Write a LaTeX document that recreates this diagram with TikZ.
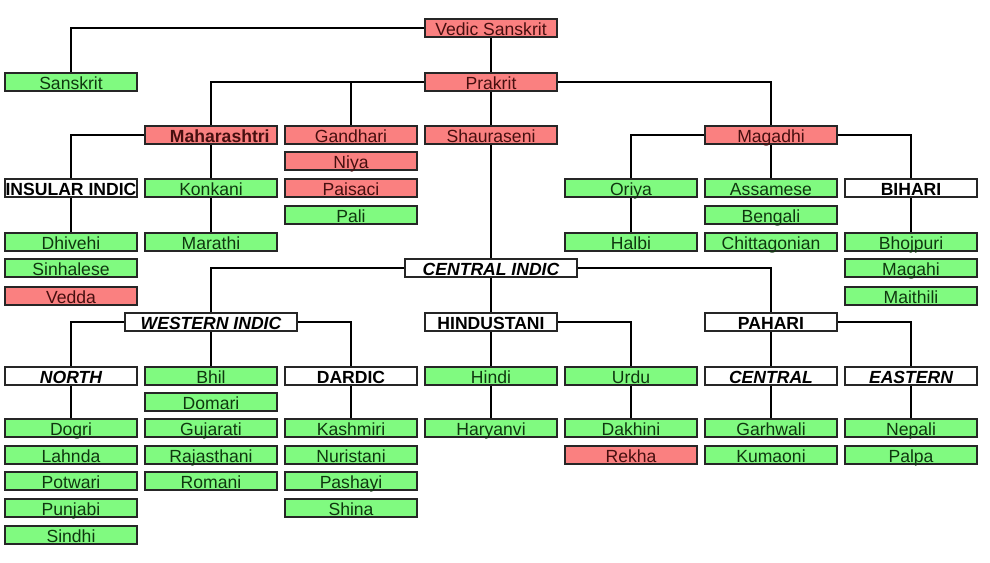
\documentclass[tikz,border=0pt]{standalone}
\usepackage{fontspec}
\setmainfont{Liberation Sans}
\definecolor{livegreen}{RGB}{128,250,128}
\definecolor{deadred}{RGB}{250,128,128}
\definecolor{livetext}{RGB}{15,55,15}
\definecolor{deadtext}{RGB}{70,15,15}

\begin{document}
\begin{tikzpicture}[x=0.02cm, y=-0.02cm, line width=0.75pt,
  lang/.style={draw=black!85, line width=0.9pt, minimum width=2.64cm, minimum height=0.37cm,
    inner sep=0pt, font=\fontsize{10}{11}\selectfont, text height=8.6pt, text depth=0pt},
  living/.style={lang, fill=livegreen, text=livetext},
  extinct/.style={lang, fill=deadred, text=deadtext},
  group/.style={lang, fill=white, font=\fontsize{10}{11}\selectfont\bfseries},
  subgroup/.style={group, font=\fontsize{10}{11}\selectfont\bfseries\itshape},
  wide/.style={minimum width=3.44cm}]
  \useasboundingbox (0,0) rectangle (990,562);
  % old languages
  \node[extinct] (vedic) at (491,28) {Vedic Sanskrit};
  \node[living] (sanskrit) at (71,82) {Sanskrit};
  \node[extinct] (prakrit) at (491,82) {Prakrit};
  \node[extinct] (mahar) at (211,135) {\hspace*{10pt}\textbf{Maharashtri}};
  \node[extinct] (gandhari) at (351,135) {Gandhari};
  \node[extinct] (shaura) at (491,135) {Shauraseni};
  \node[extinct] (magadhi) at (771,135) {Magadhi};
  \node[extinct] (niya) at (351,161) {Niya};
  \node[group] (insular) at (71,188) {INSULAR INDIC};
  \node[living] (konkani) at (211,188) {Konkani};
  \node[extinct] (paisaci) at (351,188) {Paisaci};
  \node[living] (oriya) at (631,188) {Oriya};
  \node[living] (assamese) at (771,188) {Assamese};
  \node[group] (bihari) at (911,188) {BIHARI};
  \node[living] (pali) at (351,215) {Pali};
  \node[living] (bengali) at (771,215) {Bengali};
  \node[living] (dhivehi) at (71,242) {Dhivehi};
  \node[living] (marathi) at (211,242) {Marathi};
  \node[living] (halbi) at (631,242) {Halbi};
  \node[living] (chitta) at (771,242) {Chittagonian};
  \node[living] (bhojpuri) at (911,242) {Bhojpuri};
  \node[living] (sinhalese) at (71,268) {Sinhalese};
  \node[subgroup, wide] (central) at (491,268) {CENTRAL INDIC};
  \node[living] (magahi) at (911,268) {Magahi};
  \node[extinct] (vedda) at (71,296) {Vedda};
  \node[living] (maithili) at (911,296) {Maithili};
  % central indic
  \node[subgroup, wide] (western) at (211,322) {WESTERN INDIC};
  \node[group] (hindustani) at (491,322) {HINDUSTANI};
  \node[group] (pahari) at (771,322) {PAHARI};
  \node[subgroup] (north) at (71,376) {NORTH};
  \node[living] (bhil) at (211,376) {Bhil};
  \node[group] (dardic) at (351,376) {DARDIC};
  \node[living] (hindi) at (491,376) {Hindi};
  \node[living] (urdu) at (631,376) {Urdu};
  \node[subgroup] (centralp) at (771,376) {CENTRAL};
  \node[subgroup] (eastern) at (911,376) {EASTERN};
  \node[living] (domari) at (211,402) {Domari};
  \node[living] (dogri) at (71,428) {Dogri};
  \node[living] (gujarati) at (211,428) {Gujarati};
  \node[living] (kashmiri) at (351,428) {Kashmiri};
  \node[living] (haryanvi) at (491,428) {Haryanvi};
  \node[living] (dakhini) at (631,428) {Dakhini};
  \node[living] (garhwali) at (771,428) {Garhwali};
  \node[living] (nepali) at (911,428) {Nepali};
  \node[living] (lahnda) at (71,455) {Lahnda};
  \node[living] (rajas) at (211,455) {Rajasthani};
  \node[living] (nuristani) at (351,455) {Nuristani};
  \node[extinct] (rekha) at (631,455) {Rekha};
  \node[living] (kumaoni) at (771,455) {Kumaoni};
  \node[living] (palpa) at (911,455) {Palpa};
  \node[living] (potwari) at (71,481) {Potwari};
  \node[living] (romani) at (211,481) {Romani};
  \node[living] (pashayi) at (351,481) {Pashayi};
  \node[living] (punjabi) at (71,508) {Punjabi};
  \node[living] (shina) at (351,508) {Shina};
  \node[living] (sindhi) at (71,535) {Sindhi};
  % tree lines
  \draw (vedic.west) -| (sanskrit.north);
  \draw (vedic) -- (prakrit);
  \draw (prakrit.west) -| (mahar.north);
  \draw (prakrit.west) -| (gandhari.north);
  \draw (prakrit) -- (shaura);
  \draw (prakrit.east) -| (magadhi.north);
  \draw (mahar.west) -| (insular.north);
  \draw (mahar) -- (konkani);
  \draw (konkani) -- (marathi);
  \draw (insular) -- (dhivehi);
  \draw (shaura) -- (central);
  \draw (magadhi.west) -| (oriya.north);
  \draw (oriya) -- (halbi);
  \draw (magadhi) -- (assamese);
  \draw (magadhi.east) -| (bihari.north);
  \draw (bihari) -- (bhojpuri);
  \draw (central.west) -| (western.north);
  \draw (central) -- (hindustani);
  \draw (central.east) -| (pahari.north);
  \draw (western.west) -| (north.north);
  \draw (western) -- (bhil);
  \draw (western.east) -| (dardic.north);
  \draw (north) -- (dogri);
  \draw (dardic) -- (kashmiri);
  \draw (hindustani) -- (hindi);
  \draw (hindi) -- (haryanvi);
  \draw (hindustani.east) -| (urdu.north);
  \draw (urdu) -- (dakhini);
  \draw (pahari) -- (centralp);
  \draw (centralp) -- (garhwali);
  \draw (pahari.east) -| (eastern.north);
  \draw (eastern) -- (nepali);
\end{tikzpicture}
\end{document}
